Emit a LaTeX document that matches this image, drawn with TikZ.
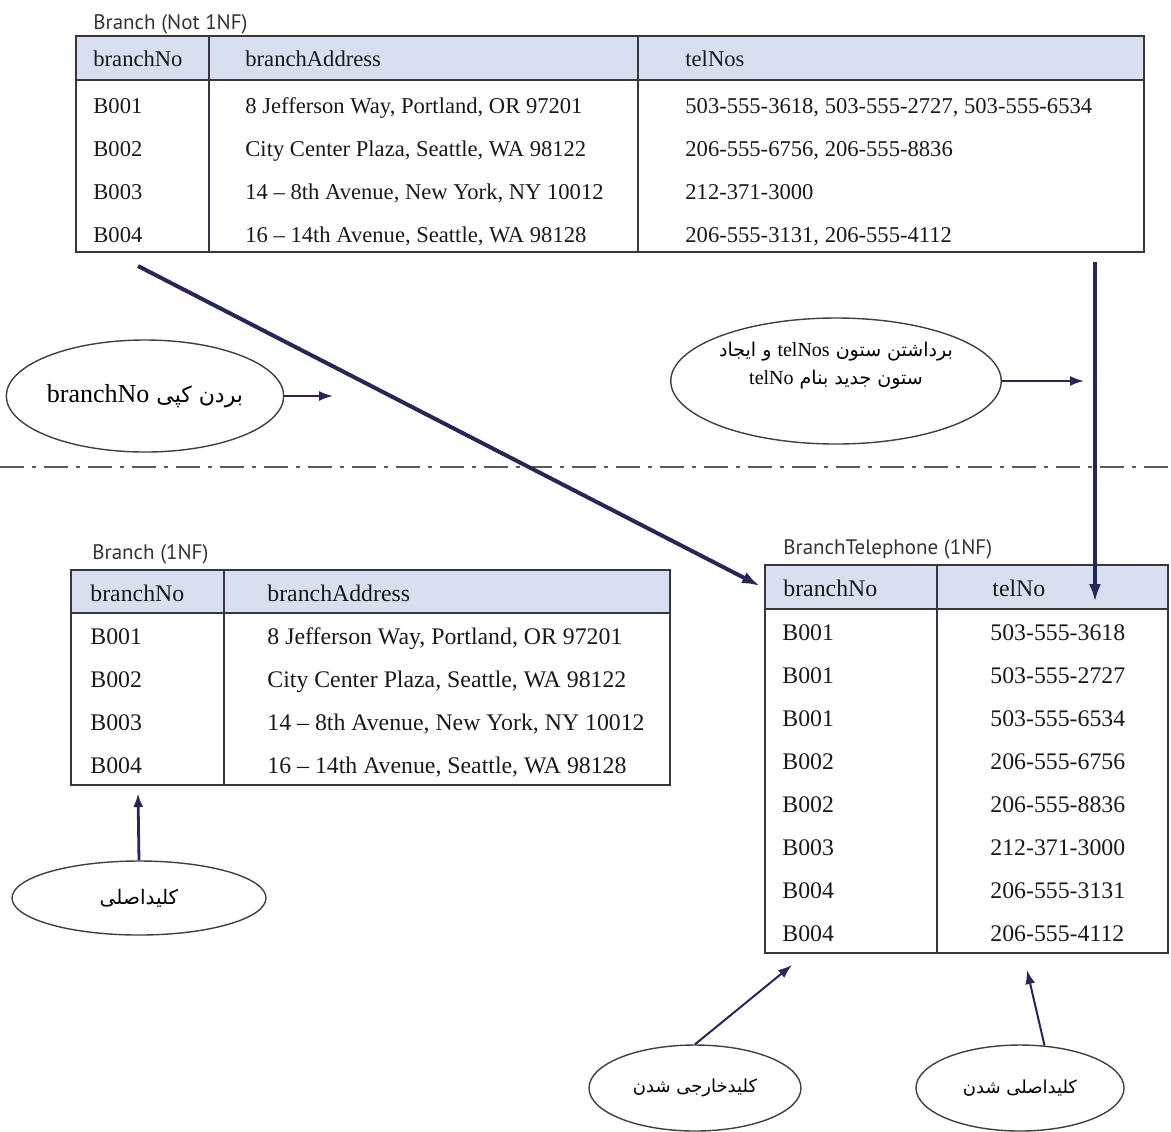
\documentclass[tikz,border=0pt]{standalone}
\usepackage{fontspec}
\setmainfont{Liberation Serif}
\newfontfamily\lblfont{PT Sans}
\newfontfamily\farsi[Script=Arabic]{DejaVu Sans}
\TeXXeTstate=1
\usetikzlibrary{shapes.geometric, arrows.meta, positioning, calc}
\definecolor{hdrfill}{RGB}{216,223,238}
\definecolor{gridline}{RGB}{55,55,65}
\definecolor{navy}{RGB}{38,38,88}
\newcommand{\fa}[1]{{\farsi\beginR #1\endR}}
\newcommand{\la}[1]{\beginL{\rmfamily #1}\endL{}}
\tikzset{
  tbl/.style={draw=gridline, line width=0.9pt},
  hdr/.style={fill=hdrfill},
  cellA/.style={anchor=base west, inner sep=0pt,
                font=\fontsize{11.3}{13}\selectfont, text=black!90},
  cellB/.style={anchor=base west, inner sep=0pt,
                font=\fontsize{11.9}{14}\selectfont, text=black!90},
  tname/.style={anchor=base west, inner sep=0pt,
                font=\lblfont\fontsize{10.5}{12}\selectfont, text=black!80},
  remark/.style={ellipse, draw=black!75, line width=0.7pt, fill=white,
                 align=center, inner sep=0pt},
  arrow/.style={-{Latex[length=7pt,width=5pt]}, line width=1pt, navy},
  bigarrow/.style={-{Latex[length=9pt,width=6pt]}, line width=2pt, navy},
  splitline/.style={line width=0.9pt, black!65,
                    dash pattern=on 12pt off 4pt on 2pt off 4pt},
}

\begin{document}
\begin{tikzpicture}[x=0.5pt, y=-0.5pt]
  \useasboundingbox (0,0) rectangle (1171,1131);

  \fill[hdr] (76,36) rectangle (1144,80);
  \draw[tbl] (76,36) rectangle (1144,252);
  \draw[tbl] (76,80) -- (1144,80);
  \draw[tbl] (209,36) -- (209,252);
  \draw[tbl] (638,36) -- (638,252);
  \node[tname] (topname) at (93,29) {Branch (Not 1NF)};
  \node[cellA] (top-h1) at (93,66) {branchNo};
  \node[cellA] (top-h2) at (245,66) {branchAddress};
  \node[cellA] (top-h3) at (685,66) {telNos};
  \foreach \b/\addr/\tel [count=\i] in {
      B001/{8 Jefferson Way, Portland, OR 97201}/{503-555-3618, 503-555-2727, 503-555-6534},
      B002/{City Center Plaza, Seattle, WA 98122}/{206-555-6756, 206-555-8836},
      B003/{14 -- 8th Avenue, New York, NY 10012}/{212-371-3000},
      B004/{16 -- 14th Avenue, Seattle, WA 98128}/{206-555-3131, 206-555-4112}} {
    \pgfmathsetmacro\yy{113+43*(\i-1)}
    \node[cellA] (top-b\i) at (93,\yy) {\b};
    \node[cellA] (top-a\i) at (245,\yy) {\addr};
    \node[cellA] (top-t\i) at (685,\yy) {\tel};
  }

  \fill[hdr] (71,570) rectangle (670,613);
  \draw[tbl] (71,570) rectangle (670,785);
  \draw[tbl] (71,613) -- (670,613);
  \draw[tbl] (224,570) -- (224,785);
  \node[tname] (brname) at (92,559) {Branch (1NF)};
  \node[cellB] (br-h1) at (90,601) {branchNo};
  \node[cellB] (br-h2) at (267,601) {branchAddress};
  \foreach \b/\addr [count=\i] in {
      B001/{8 Jefferson Way, Portland, OR 97201},
      B002/{City Center Plaza, Seattle, WA 98122},
      B003/{14 -- 8th Avenue, New York, NY 10012},
      B004/{16 -- 14th Avenue, Seattle, WA 98128}} {
    \pgfmathsetmacro\yy{644+43*(\i-1)}
    \node[cellB] (br-b\i) at (90,\yy) {\b};
    \node[cellB] (br-a\i) at (267,\yy) {\addr};
  }

  \fill[hdr] (765,565) rectangle (1168,609);
  \draw[tbl] (765,565) rectangle (1168,953);
  \draw[tbl] (765,609) -- (1168,609);
  \draw[tbl] (937,565) -- (937,953);
  \node[tname] (telname) at (783,554) {BranchTelephone (1NF)};
  \node[cellB] (tel-h1) at (783,596) {branchNo};
  \node[cellB] (tel-h2) at (992,596) {telNo};
  \foreach \b/\tel [count=\i] in {B001/503-555-3618, B001/503-555-2727,
      B001/503-555-6534, B002/206-555-6756, B002/206-555-8836,
      B003/212-371-3000, B004/206-555-3131, B004/206-555-4112} {
    \pgfmathsetmacro\yy{640+43.1*(\i-1)}
    \node[cellB] (tel-b\i) at (782,\yy) {\b};
    \node[cellB] (tel-t\i) at (990,\yy) {\tel};
  }

  \draw[splitline] (0,467) coordinate (cut0) -- (1171,467) coordinate (cut1);

  \node[remark, minimum width=127pt, minimum height=56pt,
        font=\fontsize{11}{13}\selectfont] (copykey) at (145,396)
    {\fa{بردن کپی \la{\fontsize{13}{15}\selectfont branchNo}}};
  \node[remark, minimum width=156pt, minimum height=63pt,
        font=\fontsize{9.5}{14}\selectfont] (splitcol) at (836,381)
    {\fa{برداشتن ستون \la{\fontsize{10}{14}\selectfont telNos} و ایجاد}\\
     \fa{ستون جدید بنام \la{\fontsize{10}{14}\selectfont telNo}}\\[4pt]};
  \node[remark, minimum width=127pt, minimum height=37pt,
        font=\fontsize{10}{12}\selectfont] (pkey) at (139,898)
    {\fa{کلیداصلی}};
  \node[remark, minimum width=106pt, minimum height=43pt,
        font=\fontsize{9}{11}\selectfont] (fkey2) at (695,1088)
    {\fa{کلیدخارجی شدن}};
  \node[remark, minimum width=104pt, minimum height=43pt,
        font=\fontsize{9}{11}\selectfont] (pkey2) at (1020,1088)
    {\fa{کلیداصلی شدن}};

  \coordinate (copyto) at (333,396);
  \coordinate (splitto) at (1084,381);
  \coordinate (diag0) at (138,266);
  \coordinate (diag1) at (760,586);
  \coordinate (down0) at (1095,262);
  \coordinate (down1) at (1095,602);
  \coordinate (pkto) at (138,793);
  \coordinate (fkto) at (792,965);
  \coordinate (pk2to) at (1027,970);

  \draw[bigarrow] (diag0) -- (diag1);
  \draw[bigarrow] (down0) -- (down1);
  \draw[arrow] (copykey.east) -- (copyto);
  \draw[arrow] (splitcol.east) -- (splitto);
  \draw[arrow, line width=1.4pt] (pkey.north) -- (pkto);
  \draw[arrow] (fkey2.north) -- (fkto);
  \draw[arrow] (pkey2.60) -- (pk2to);
\end{tikzpicture}
\end{document}
